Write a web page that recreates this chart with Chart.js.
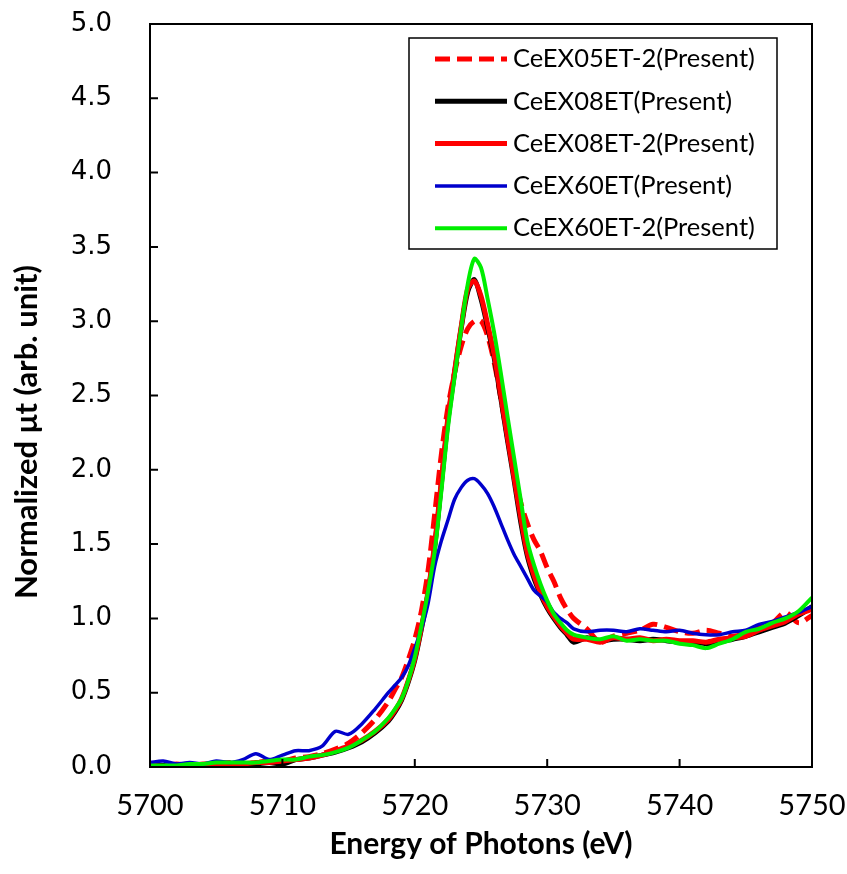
<!DOCTYPE html>
<html>
<head>
<meta charset="utf-8">
<script src="https://cdn.jsdelivr.net/npm/chart.js@4.4.0/dist/chart.umd.min.js"></script>
<style>
  body { margin: 0; background: #fff; }
</style>
</head>
<body>
<canvas id="xanes" width="847" height="874"></canvas>
<script>
// photon energy (eV), finer step over the white line
var energy = [
  5700, 5701, 5702, 5703, 5704, 5705, 5706, 5707, 5708, 5709,
  5710, 5711, 5712, 5713, 5714, 5715, 5716, 5717, 5718,
  5718.5, 5719, 5719.5, 5720, 5720.5, 5721, 5721.5, 5722, 5722.5, 5723,
  5723.5, 5724, 5724.5, 5725, 5725.5, 5726, 5726.5, 5727, 5727.5, 5728,
  5728.5, 5729, 5729.5, 5730, 5730.5, 5731, 5731.5, 5732,
  5733, 5734, 5735, 5736, 5737, 5738, 5739, 5740, 5741, 5742,
  5743, 5744, 5745, 5746, 5747, 5748, 5749, 5750
];

var ce05et2 = [
  0.01, 0.01, 0.02, 0.01, 0.02, 0.02, 0.03, 0.02, 0.03, 0.04,
  0.04, 0.06, 0.07, 0.09, 0.12, 0.16, 0.23, 0.32, 0.44,
  0.52, 0.60, 0.72, 0.86, 1.05, 1.32, 1.70, 2.10, 2.42, 2.65,
  2.83, 2.95, 3.00, 3.00, 2.90, 2.72, 2.48, 2.22, 1.98, 1.78,
  1.64, 1.53, 1.45, 1.34, 1.25, 1.14, 1.06, 1.00,
  0.93, 0.84, 0.88, 0.90, 0.92, 0.96, 0.94, 0.91, 0.90, 0.92,
  0.90, 0.88, 0.90, 0.94, 0.97, 1.04, 0.97, 1.02
];

var ce08et = [
  0.00, 0.01, 0.00, 0.01, 0.01, 0.00, 0.01, 0.02, 0.02, 0.03,
  0.02, 0.05, 0.06, 0.08, 0.10, 0.13, 0.17, 0.23, 0.31,
  0.37, 0.45, 0.57, 0.72, 0.93, 1.17, 1.48, 1.90, 2.33, 2.65,
  2.95, 3.20, 3.28, 3.15, 2.96, 2.75, 2.48, 2.20, 1.93, 1.65,
  1.42, 1.27, 1.16, 1.07, 1.00, 0.94, 0.89, 0.84,
  0.87, 0.85, 0.86, 0.86, 0.85, 0.86, 0.85, 0.84, 0.84, 0.83,
  0.84, 0.86, 0.88, 0.91, 0.94, 0.97, 1.02, 1.08
];

var ce08et2 = [
  0.01, 0.00, 0.01, 0.02, 0.01, 0.02, 0.02, 0.02, 0.03, 0.03,
  0.04, 0.05, 0.06, 0.08, 0.11, 0.14, 0.18, 0.24, 0.32,
  0.38, 0.46, 0.58, 0.73, 0.94, 1.18, 1.50, 1.92, 2.35, 2.66,
  2.96, 3.22, 3.27, 3.17, 2.98, 2.77, 2.50, 2.22, 1.95, 1.68,
  1.44, 1.29, 1.17, 1.08, 1.01, 0.95, 0.90, 0.86,
  0.86, 0.84, 0.87, 0.86, 0.87, 0.85, 0.86, 0.85, 0.85, 0.84,
  0.86, 0.87, 0.88, 0.92, 0.95, 0.98, 1.03, 1.06
];

var ce60et = [
  0.03, 0.04, 0.02, 0.03, 0.02, 0.04, 0.03, 0.05, 0.09, 0.05,
  0.08, 0.11, 0.11, 0.14, 0.24, 0.22, 0.29, 0.39, 0.50,
  0.55, 0.60, 0.68, 0.80, 0.93, 1.10, 1.35, 1.52, 1.66, 1.80,
  1.88, 1.93, 1.94, 1.90, 1.84, 1.75, 1.64, 1.53, 1.43, 1.35,
  1.27, 1.19, 1.15, 1.11, 1.04, 1.00, 0.97, 0.93,
  0.91, 0.92, 0.92, 0.91, 0.93, 0.92, 0.91, 0.92, 0.90, 0.89,
  0.89, 0.91, 0.92, 0.96, 0.98, 1.01, 1.04, 1.08
];

var ce60et2 = [
  0.01, 0.01, 0.01, 0.02, 0.02, 0.03, 0.03, 0.03, 0.03, 0.04,
  0.05, 0.05, 0.07, 0.08, 0.10, 0.13, 0.18, 0.24, 0.33,
  0.39, 0.46, 0.58, 0.74, 0.95, 1.18, 1.45, 1.85, 2.28, 2.62,
  2.95, 3.25, 3.42, 3.36, 3.15, 2.92, 2.65, 2.36, 2.08, 1.80,
  1.52, 1.36, 1.23, 1.12, 1.03, 0.97, 0.92, 0.89,
  0.87, 0.86, 0.88, 0.85, 0.86, 0.85, 0.85, 0.83, 0.82, 0.80,
  0.83, 0.86, 0.91, 0.93, 0.97, 1.00, 1.05, 1.14
];

var seriesNames = [
  'CeEX05ET-2(Present)',
  'CeEX08ET(Present)',
  'CeEX08ET-2(Present)',
  'CeEX60ET(Present)',
  'CeEX60ET-2(Present)'
];

var xTickValues = [5700, 5710, 5720, 5730, 5740, 5750];
var yTickValues = [0, 0.5, 1, 1.5, 2, 2.5, 3, 3.5, 4, 4.5, 5];

var yTitle = 'Normalized μt (arb. unit)';
var xTitle = 'Energy of Photons (eV)';

var narrowFont = 'Lato, "Liberation Sans", sans-serif';

function pairs(values) {
  return energy.map(function (e, i) { return { x: e, y: values[i] }; });
}

// boxed frame, inward tick marks, y title and the inset legend
var frameAndLegend = {
  id: 'frameAndLegend',
  afterDatasetsDraw: function (chart) {
    var ctx = chart.ctx;
    var a = chart.chartArea;
    var xs = chart.scales.x, ys = chart.scales.y;
    ctx.save();
    ctx.strokeStyle = '#000';
    ctx.lineWidth = 2;
    ctx.strokeRect(a.left, a.top, a.right - a.left, a.bottom - a.top);
    ctx.beginPath();
    yTickValues.forEach(function (v) {
      var py = ys.getPixelForValue(v);
      ctx.moveTo(a.left, py); ctx.lineTo(a.left + 8, py);
    });
    xTickValues.forEach(function (v) {
      var px = xs.getPixelForValue(v);
      ctx.moveTo(px, a.bottom); ctx.lineTo(px, a.bottom - 8);
    });
    ctx.stroke();

    // y axis title
    ctx.save();
    ctx.translate(27, 432);
    ctx.rotate(-Math.PI / 2);
    ctx.fillStyle = '#000';
    ctx.font = 'bold 31px ' + narrowFont;
    ctx.textAlign = 'center';
    ctx.textBaseline = 'middle';
    ctx.fillText(yTitle, 0, 0);
    ctx.restore();

    // legend
    var bx = a.left + 259, by = a.top + 14, bw = 368, bh = 211;
    ctx.fillStyle = '#fff';
    ctx.fillRect(bx, by, bw, bh);
    ctx.lineWidth = 1.5;
    ctx.strokeRect(bx, by, bw, bh);
    ctx.font = '25.5px ' + narrowFont;
    ctx.textBaseline = 'middle';
    ctx.textAlign = 'left';
    chart.data.datasets.forEach(function (ds, i) {
      var ry = by + 21 + i * 42.3;
      ctx.beginPath();
      ctx.strokeStyle = ds.borderColor;
      ctx.lineWidth = ds.borderWidth;
      ctx.setLineDash(ds.borderDash || []);
      ctx.moveTo(bx + 26, ry); ctx.lineTo(bx + 98, ry);
      ctx.stroke();
      ctx.setLineDash([]);
      ctx.fillStyle = '#000';
      ctx.fillText(ds.label, bx + 104, ry);
    });
    ctx.restore();
  }
};

var ctx = document.getElementById('xanes').getContext('2d');
var chart = new Chart(ctx, {
  type: 'line',
  data: {
    datasets: [
      { label: seriesNames[0], data: pairs(ce05et2), borderColor: '#ff0000', borderWidth: 5, borderDash: [15, 7], order: 4 },
      { label: seriesNames[1], data: pairs(ce08et), borderColor: '#000000', borderWidth: 5, order: 3 },
      { label: seriesNames[2], data: pairs(ce08et2), borderColor: '#ff0000', borderWidth: 5, order: 2 },
      { label: seriesNames[3], data: pairs(ce60et), borderColor: '#0000cc', borderWidth: 3.5, order: 1 },
      { label: seriesNames[4], data: pairs(ce60et2), borderColor: '#00ee00', borderWidth: 4, order: 0 }
    ]
  },
  options: {
    responsive: false,
    animation: false,
    devicePixelRatio: 1,
    elements: { point: { radius: 0 }, line: { tension: 0.3, fill: false } },
    layout: { padding: { left: 0, right: 35, top: 24, bottom: 0 } },
    plugins: { legend: { display: false }, tooltip: { enabled: false } },
    scales: {
      x: {
        type: 'linear',
        min: 5700, max: 5750,
        afterBuildTicks: function (s) { s.ticks = xTickValues.map(function (v) { return { value: v }; }); },
        afterFit: function (s) { s.height = 874 - 767; s.paddingLeft = 0; s.paddingRight = 0; },
        grid: { display: false, drawTicks: false },
        border: { display: false },
        ticks: { color: '#000', padding: 21, font: { family: narrowFont, size: 29 },
                 callback: function (v) { return String(v); } },
        title: { display: true, text: xTitle, color: '#000', padding: { top: 0, bottom: 12 },
                 font: { family: narrowFont, size: 30, weight: 'bold' } }
      },
      y: {
        min: 0, max: 5,
        afterBuildTicks: function (s) { s.ticks = yTickValues.map(function (v) { return { value: v }; }); },
        afterFit: function (s) { s.width = 150; s.paddingTop = 0; s.paddingBottom = 0; },
        grid: { display: false, drawTicks: false },
        border: { display: false },
        ticks: { color: '#000', padding: 38, font: { family: '"DejaVu Sans", Verdana, sans-serif', size: 26 },
                 callback: function (v) { return Number(v).toFixed(1); } }
      }
    }
  },
  plugins: [frameAndLegend]
});
</script>
</body>
</html>
